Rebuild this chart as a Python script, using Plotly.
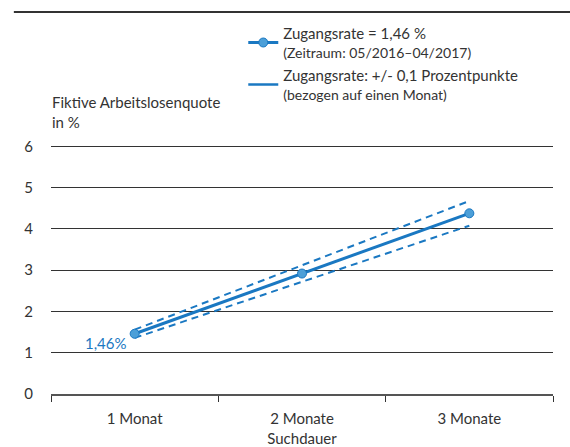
import plotly.graph_objects as go

categories = ["1 Monat", "2 Monate", "3 Monate"]
rate_main = [1.46, 2.92, 4.38]
rate_upper = [1.56, 3.12, 4.68]
rate_lower = [1.36, 2.72, 4.08]
y_ticks = [0, 1, 2, 3, 4, 5, 6]
label_first = "1,46%"

BLUE = "#1a78c2"
MARKER = "#4c9fd8"
DARK = "#333333"
FONT = "Lato"

fig = go.Figure()
fig.add_trace(go.Scatter(x=categories, y=rate_upper, mode="lines",
                         line=dict(color=BLUE, width=2, dash="7px,5px"), showlegend=False, hoverinfo="skip"))
fig.add_trace(go.Scatter(x=categories, y=rate_lower, mode="lines",
                         line=dict(color=BLUE, width=2, dash="7px,5px"), showlegend=False, hoverinfo="skip"))
fig.add_trace(go.Scatter(x=categories, y=rate_main, mode="lines+markers",
                         line=dict(color=BLUE, width=3),
                         marker=dict(color=MARKER, size=9, line=dict(color=BLUE, width=1)),
                         name="Zugangsrate = 1,46 %<br><span style='font-size:14px'>(Zeitraum: 05/2016–04/2017)</span>"))
fig.add_trace(go.Scatter(x=[None], y=[None], mode="lines",
                         line=dict(color=BLUE, width=2.5),
                         name="Zugangsrate: +/- 0,1 Prozentpunkte<br><span style='font-size:14px'>(bezogen auf einen Monat)</span>"))

fig.add_annotation(x=categories[0], y=rate_main[0], text=label_first, showarrow=False,
                   xanchor="right", yanchor="middle", xshift=-6, yshift=-9,
                   font=dict(color=BLUE, size=15, family=FONT))

fig.add_annotation(xref="paper", yref="paper", x=0, y=1, xshift=-1, yshift=11,
                   text="Fiktive Arbeitslosenquote<br>in %", showarrow=False, align="left",
                   xanchor="left", yanchor="bottom", font=dict(size=15, color=DARK, family=FONT))

fig.add_shape(type="line", xref="paper", yref="paper", x0=-0.074, x1=1.04, y0=1.528, y1=1.528,
              line=dict(color=DARK, width=2))

fig.update_layout(
    width=570, height=447,
    margin=dict(l=51, r=17, t=144, b=53, autoexpand=False),
    paper_bgcolor="white", plot_bgcolor="white",
    font=dict(family=FONT, size=15, color=DARK),
    legend=dict(x=0.383, y=1.51, xanchor="left", yanchor="top", bgcolor="rgba(0,0,0,0)",
                font=dict(size=15, color=DARK, family=FONT), itemwidth=30, tracegroupgap=0),
    xaxis=dict(range=[-0.5, 2.5], tickson="boundaries", ticks="outside", ticklen=6, tickcolor=DARK,
               showgrid=False, showline=True, linecolor="#555555", linewidth=1.5, automargin=False,
               ticklabelstandoff=10,
               title=dict(text="Suchdauer", standoff=9, font=dict(size=15)), tickfont=dict(size=15)),
    yaxis=dict(range=[0, 6.06], tickvals=y_ticks, showgrid=True, gridcolor=DARK, gridwidth=1,
               zeroline=False, ticklabelstandoff=17, tickfont=dict(size=15), automargin=False),
)

fig.write_html("out.html", config={"displayModeBar": False},
               post_script="document.body.style.margin='0';")
